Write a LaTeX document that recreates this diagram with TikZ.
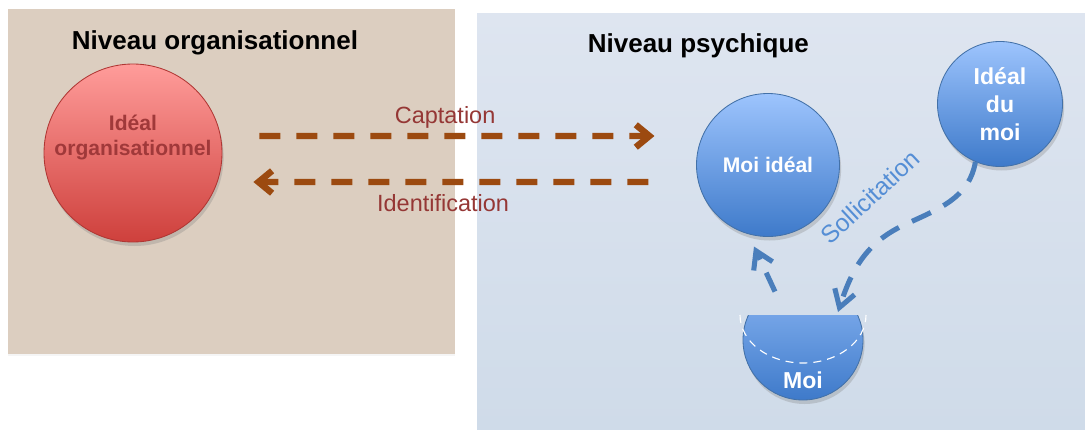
\documentclass[tikz,border=0pt]{standalone}
\usepackage{fontspec}
\setmainfont{Liberation Sans}
\usetikzlibrary{arrows.meta,positioning,shadows,calc}
\definecolor{sand}{RGB}{220,206,192}
\definecolor{mist}{RGB}{222,229,240}
\definecolor{mistlow}{RGB}{207,219,233}
\definecolor{rust}{RGB}{156,74,16}
\definecolor{wine}{RGB}{149,55,53}
\definecolor{orgtxt}{RGB}{160,57,58}
\definecolor{sky}{RGB}{74,126,187}
\definecolor{skytext}{RGB}{85,142,213}
\definecolor{rosetop}{RGB}{255,156,154}
\definecolor{rosebot}{RGB}{206,64,60}
\definecolor{bluetop}{RGB}{157,196,253}
\definecolor{bluebot}{RGB}{62,122,202}
\tikzset{
  title/.style={font=\fontsize{18.5}{22}\selectfont\bfseries,anchor=base},
  redball/.style={circle,draw=rosebot!85!black,semithick,top color=rosetop,bottom color=rosebot,
    minimum size=4.45cm,inner sep=0pt,drop shadow={opacity=0.3,shadow xshift=0.04cm,shadow yshift=-0.1cm}},
  blueball/.style={circle,draw=sky!90!black,semithick,top color=bluetop,bottom color=bluebot,
    minimum size=#1,inner sep=0pt,text=white,align=center,
    drop shadow={opacity=0.3,shadow xshift=0.04cm,shadow yshift=-0.1cm}},
  blueball/.default=3cm,
  orgtext/.style={text=orgtxt,font=\fontsize{15}{17.8}\selectfont\bfseries,align=center},
  moitext/.style={text=white,font=\fontsize{16.4}{19}\selectfont\bfseries},
  flowlabel/.style={text=wine,font=\fontsize{16.7}{20}\selectfont},
  capflow/.style={draw=rust,line width=4.6pt,dash pattern=on 0.525cm off 0.4cm,
    -{Straight Barb[length=0.34cm,width=0.56cm]}},
  sollflow/.style={draw=sky,line width=3.6pt,dash pattern=on 0.52cm off 0.36cm,
    -{Straight Barb[length=0.42cm,width=0.52cm]}},
}
\begin{document}
\begin{tikzpicture}
  \useasboundingbox (0,0) rectangle (27.125,10.725);
  % the two levels
  \fill[sand,drop shadow={opacity=0.08,shadow xshift=0cm,shadow yshift=-0.05cm}] (0.2,1.87) rectangle (11.375,10.5);
  \shade[top color=mist,bottom color=mistlow] (11.925,0) rectangle (27.125,10.4);
  \node[title] (orgtitle) at (5.375,9.49) {Niveau organisationnel};
  \node[title] (psytitle) at (17.46,9.425) {Niveau psychique};
  % spheres
  \node[redball] (org) at (3.325,6.9) {};
  \node[orgtext] (orglabel) at ([yshift=0.39cm]org.center) {Idéal\\organisationnel};
  \node[blueball=3.575cm,font=\fontsize{15}{18}\selectfont\bfseries] (moiideal) at (19.2,6.6) {Moi idéal};
  \node[blueball=3.125cm,font=\fontsize{16.4}{20}\selectfont\bfseries] (idm) at (25.0,8.125) {Idéal\\du\\moi};
  \begin{scope}
    \clip (18.4,0) rectangle (21.8,2.85);
    \node[blueball=3cm,top color=bluetop!80!bluebot] (moi) at (20.075,2.225) {};
  \end{scope}
  \coordinate (moitop) at ($(moi.center)+(0,0.625)$);
  \draw[white,thick,dash pattern=on 0.2cm off 0.15cm] ([xshift=-1.575cm]moitop)
    arc[start angle=180,end angle=360,x radius=1.575cm,y radius=1.2cm];
  \node[moitext] (moilabel) at ([yshift=-1cm]moi.center) {Moi};
  % flows between the levels
  \draw[capflow] ([xshift=0.925cm,yshift=0.425cm]org.east) -- ([xshift=-1.04cm,yshift=0.725cm]moiideal.west)
    node[flowlabel,pos=0.47,yshift=0.475cm] (captation) {Captation};
  \draw[capflow] ([xshift=-1.19cm,yshift=-0.425cm]moiideal.west) -- ([xshift=0.775cm,yshift=-0.725cm]org.east)
    node[flowlabel,pos=0.52,yshift=-0.525cm] (identification) {Identification};
  % psychic flows
  \coordinate (soltip) at ([xshift=0.875cm,yshift=0.075cm]moitop);
  \coordinate (solbend) at (22.6,5.1);
  \draw[sollflow] ([xshift=-0.7cm,yshift=-0.3cm]moi.north) -- ([xshift=-0.35cm,yshift=-0.24cm]moiideal.south);
  \draw[sollflow] (idm.-113) to[out=-100,in=25] (solbend) to[out=205,in=72] (soltip);
  \node[text=skytext,font=\fontsize{17.5}{20}\selectfont,rotate=43] (sollicitation) at (21.75,5.8) {Sollicitation};
\end{tikzpicture}
\end{document}
